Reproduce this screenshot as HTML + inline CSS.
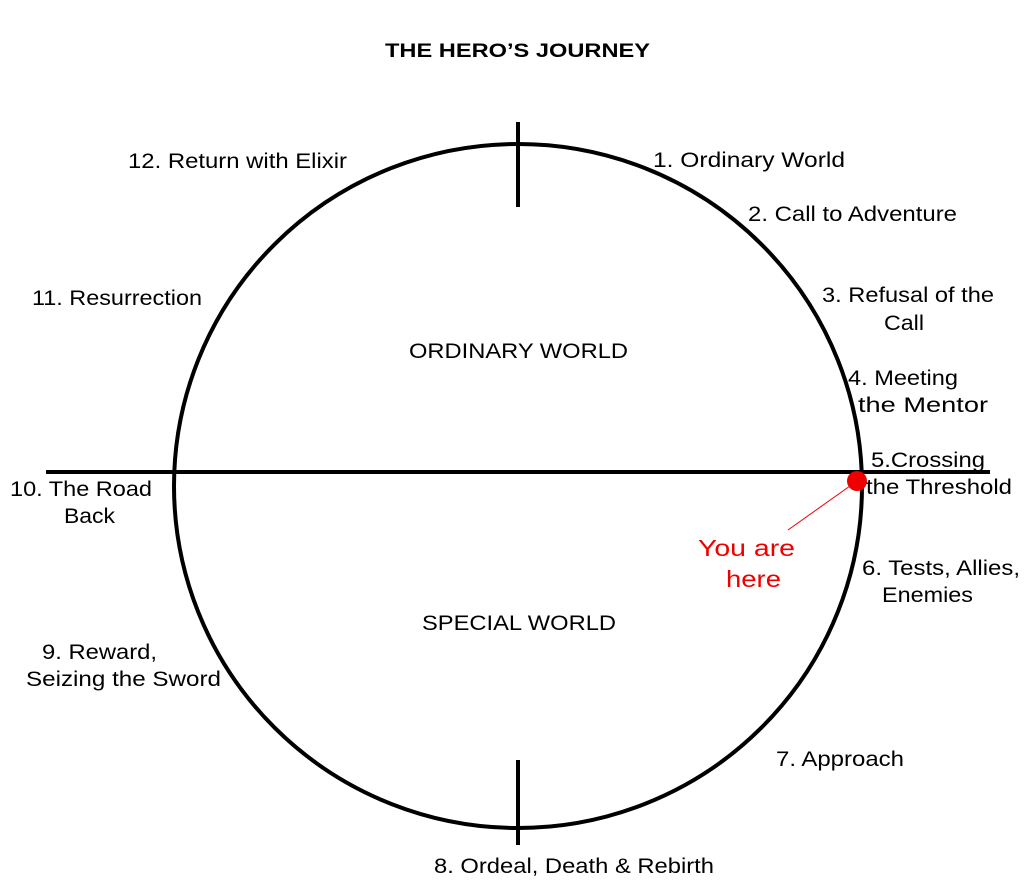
<!DOCTYPE html>
<html><head><meta charset="utf-8"><style>
html,body{margin:0;padding:0;background:#fff;}
svg{display:block;}
text{font-family:"Liberation Sans",Arial,sans-serif;font-size:21px;fill:#000;}
</style></head><body>
<svg width="1024" height="889" viewBox="0 0 1024 889" xmlns="http://www.w3.org/2000/svg">
<rect width="1024" height="889" fill="#fff"/>
<text x="385" y="57" textLength="265" lengthAdjust="spacingAndGlyphs" style="font-weight:bold;font-size:19px">THE HERO’S JOURNEY</text>
<ellipse cx="518" cy="486" rx="344" ry="342" fill="none" stroke="#000" stroke-width="4"/>
<line x1="46" y1="472" x2="990" y2="472" stroke="#000" stroke-width="4"/>
<line x1="518" y1="122" x2="518" y2="207" stroke="#000" stroke-width="4"/>
<line x1="518" y1="760" x2="518" y2="845" stroke="#000" stroke-width="4"/>
<line x1="857" y1="481" x2="788" y2="530" stroke="#e00" stroke-width="1"/>
<circle cx="857" cy="481" r="10" fill="#e00"/>
<text x="409" y="358" textLength="219" lengthAdjust="spacingAndGlyphs">ORDINARY WORLD</text>
<text x="422" y="630" textLength="194" lengthAdjust="spacingAndGlyphs">SPECIAL WORLD</text>
<text x="128" y="168" textLength="219" lengthAdjust="spacingAndGlyphs">12. Return with Elixir</text>
<text x="653" y="167" textLength="192" lengthAdjust="spacingAndGlyphs">1.  Ordinary World</text>
<text x="748" y="221" textLength="209" lengthAdjust="spacingAndGlyphs">2. Call to Adventure</text>
<text x="822" y="302" textLength="172" lengthAdjust="spacingAndGlyphs">3. Refusal of the</text>
<text x="884" y="330" textLength="40" lengthAdjust="spacingAndGlyphs">Call</text>
<text x="848" y="385" textLength="110" lengthAdjust="spacingAndGlyphs">4. Meeting</text>
<text x="858" y="412" textLength="130" lengthAdjust="spacingAndGlyphs">the Mentor</text>
<text x="871" y="467" textLength="114" lengthAdjust="spacingAndGlyphs">5.Crossing</text>
<text x="866" y="494" textLength="146" lengthAdjust="spacingAndGlyphs">the Threshold</text>
<text x="32" y="305" textLength="170" lengthAdjust="spacingAndGlyphs">11. Resurrection</text>
<text x="10" y="496" textLength="142" lengthAdjust="spacingAndGlyphs">10. The Road</text>
<text x="64" y="523" textLength="51" lengthAdjust="spacingAndGlyphs">Back</text>
<text x="698" y="556" textLength="97" lengthAdjust="spacingAndGlyphs" style="fill:#e00;font-size:23px">You are</text>
<text x="726" y="587" textLength="55" lengthAdjust="spacingAndGlyphs" style="fill:#e00;font-size:23px">here</text>
<text x="862" y="575" textLength="158" lengthAdjust="spacingAndGlyphs">6. Tests, Allies,</text>
<text x="882" y="602" textLength="91" lengthAdjust="spacingAndGlyphs">Enemies</text>
<text x="42" y="659" textLength="115" lengthAdjust="spacingAndGlyphs">9. Reward,</text>
<text x="26" y="686" textLength="195" lengthAdjust="spacingAndGlyphs">Seizing the Sword</text>
<text x="776" y="766" textLength="128" lengthAdjust="spacingAndGlyphs">7. Approach</text>
<text x="434" y="873" textLength="280" lengthAdjust="spacingAndGlyphs">8. Ordeal, Death &amp; Rebirth</text>
</svg>
</body></html>
